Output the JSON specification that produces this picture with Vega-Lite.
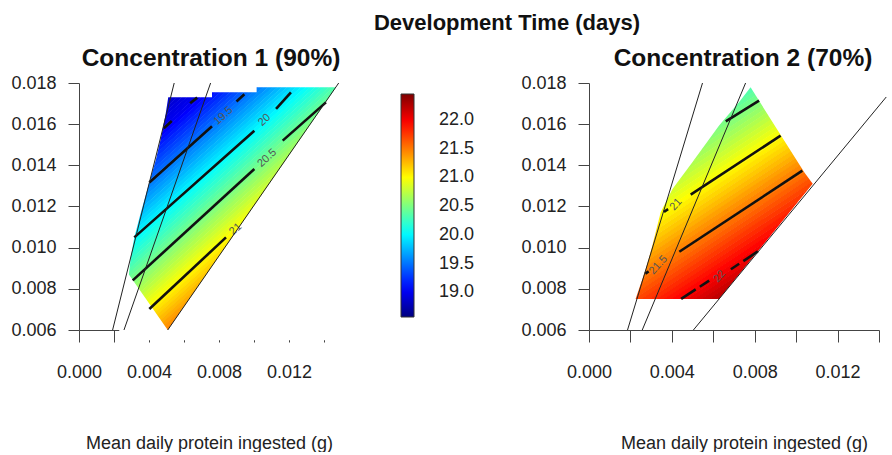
{
"$schema":"https://vega.github.io/schema/vega-lite/v6.json",
"padding":{"left":10,"top":11,"right":0,"bottom":0},
"config":{"font":"Liberation Sans","view":{"stroke":null},
"axis":{"domainColor":"#444","tickColor":"#444","labelColor":"#222","labelFontSize":18,"grid":false,"labelFlush":false,"labelOverlap":false,"zindex":1,"domainWidth":1,"tickWidth":1}},
"title":{"text":"Development Time (days)","fontSize":22,"fontWeight":"bold","anchor":"middle","frame":"group","dx":428,"offset":11,"color":"#111"},
"bounds":"flush",
"spacing":265,
"resolve":{"scale":{"color":"shared"}},
"datasets":{
"stripes":[
{"p":1,"v":18.85,"x":0.0027,"y":0.01561,"x2":0.0058,"y2":0.01795},
{"p":1,"v":18.87,"x":0.0027,"y":0.01541,"x2":0.00607,"y2":0.01795},
{"p":1,"v":18.89,"x":0.0027,"y":0.0152,"x2":0.00633,"y2":0.01795},
{"p":1,"v":18.91,"x":0.0027,"y":0.015,"x2":0.0066,"y2":0.01795},
{"p":1,"v":18.94,"x":0.0027,"y":0.0148,"x2":0.00687,"y2":0.01795},
{"p":1,"v":18.96,"x":0.0027,"y":0.0146,"x2":0.00714,"y2":0.01795},
{"p":1,"v":18.98,"x":0.0027,"y":0.0144,"x2":0.0074,"y2":0.01795},
{"p":1,"v":19.00,"x":0.0027,"y":0.01419,"x2":0.00767,"y2":0.01795},
{"p":1,"v":19.05,"x":0.0027,"y":0.01399,"x2":0.00794,"y2":0.01795},
{"p":1,"v":19.10,"x":0.0027,"y":0.01379,"x2":0.00821,"y2":0.01795},
{"p":1,"v":19.15,"x":0.0027,"y":0.01359,"x2":0.00847,"y2":0.01795},
{"p":1,"v":19.20,"x":0.0027,"y":0.01339,"x2":0.00874,"y2":0.01795},
{"p":1,"v":19.25,"x":0.0027,"y":0.01318,"x2":0.00901,"y2":0.01795},
{"p":1,"v":19.30,"x":0.0027,"y":0.01298,"x2":0.00928,"y2":0.01795},
{"p":1,"v":19.35,"x":0.0027,"y":0.01278,"x2":0.00954,"y2":0.01795},
{"p":1,"v":19.40,"x":0.0027,"y":0.01258,"x2":0.00981,"y2":0.01795},
{"p":1,"v":19.45,"x":0.0027,"y":0.01238,"x2":0.01008,"y2":0.01795},
{"p":1,"v":19.50,"x":0.0027,"y":0.01217,"x2":0.01035,"y2":0.01795},
{"p":1,"v":19.55,"x":0.0027,"y":0.01197,"x2":0.01061,"y2":0.01795},
{"p":1,"v":19.60,"x":0.0027,"y":0.01177,"x2":0.01088,"y2":0.01795},
{"p":1,"v":19.65,"x":0.0027,"y":0.01157,"x2":0.01115,"y2":0.01795},
{"p":1,"v":19.70,"x":0.0027,"y":0.01137,"x2":0.01141,"y2":0.01795},
{"p":1,"v":19.75,"x":0.0027,"y":0.01116,"x2":0.01168,"y2":0.01795},
{"p":1,"v":19.80,"x":0.0027,"y":0.01096,"x2":0.01195,"y2":0.01795},
{"p":1,"v":19.85,"x":0.0027,"y":0.01076,"x2":0.01222,"y2":0.01795},
{"p":1,"v":19.90,"x":0.0027,"y":0.01056,"x2":0.01248,"y2":0.01795},
{"p":1,"v":19.95,"x":0.0027,"y":0.01036,"x2":0.01275,"y2":0.01795},
{"p":1,"v":20.00,"x":0.0027,"y":0.01015,"x2":0.01302,"y2":0.01795},
{"p":1,"v":20.05,"x":0.0027,"y":0.00995,"x2":0.01329,"y2":0.01795},
{"p":1,"v":20.10,"x":0.0027,"y":0.00975,"x2":0.01355,"y2":0.01795},
{"p":1,"v":20.15,"x":0.0027,"y":0.00955,"x2":0.01382,"y2":0.01795},
{"p":1,"v":20.20,"x":0.0027,"y":0.00935,"x2":0.01409,"y2":0.01795},
{"p":1,"v":20.25,"x":0.0027,"y":0.00914,"x2":0.01436,"y2":0.01795},
{"p":1,"v":20.30,"x":0.0027,"y":0.00894,"x2":0.01462,"y2":0.01795},
{"p":1,"v":20.35,"x":0.0027,"y":0.00874,"x2":0.01485,"y2":0.01792},
{"p":1,"v":20.40,"x":0.0027,"y":0.00854,"x2":0.01485,"y2":0.01772},
{"p":1,"v":20.45,"x":0.0027,"y":0.00834,"x2":0.01485,"y2":0.01752},
{"p":1,"v":20.50,"x":0.0027,"y":0.00813,"x2":0.01485,"y2":0.01731},
{"p":1,"v":20.55,"x":0.0027,"y":0.00793,"x2":0.01485,"y2":0.01711},
{"p":1,"v":20.60,"x":0.0027,"y":0.00773,"x2":0.01485,"y2":0.01691},
{"p":1,"v":20.65,"x":0.0027,"y":0.00753,"x2":0.01485,"y2":0.01671},
{"p":1,"v":20.70,"x":0.0027,"y":0.00733,"x2":0.01485,"y2":0.01651},
{"p":1,"v":20.75,"x":0.0027,"y":0.00712,"x2":0.01485,"y2":0.0163},
{"p":1,"v":20.80,"x":0.0027,"y":0.00692,"x2":0.01485,"y2":0.0161},
{"p":1,"v":20.85,"x":0.0027,"y":0.00672,"x2":0.01485,"y2":0.0159},
{"p":1,"v":20.90,"x":0.0027,"y":0.00652,"x2":0.01485,"y2":0.0157},
{"p":1,"v":20.95,"x":0.0027,"y":0.00632,"x2":0.01485,"y2":0.0155},
{"p":1,"v":21.00,"x":0.0027,"y":0.00611,"x2":0.01485,"y2":0.01529},
{"p":1,"v":21.05,"x":0.0027,"y":0.00591,"x2":0.01485,"y2":0.01509},
{"p":1,"v":21.10,"x":0.00295,"y":0.0059,"x2":0.01485,"y2":0.01489},
{"p":1,"v":21.15,"x":0.00322,"y":0.0059,"x2":0.01485,"y2":0.01469},
{"p":1,"v":21.20,"x":0.00349,"y":0.0059,"x2":0.01485,"y2":0.01449},
{"p":1,"v":21.25,"x":0.00375,"y":0.0059,"x2":0.01485,"y2":0.01428},
{"p":1,"v":21.30,"x":0.00402,"y":0.0059,"x2":0.01485,"y2":0.01408},
{"p":1,"v":21.35,"x":0.00429,"y":0.0059,"x2":0.01485,"y2":0.01388},
{"p":1,"v":21.40,"x":0.00456,"y":0.0059,"x2":0.01485,"y2":0.01368},
{"p":1,"v":21.45,"x":0.00483,"y":0.0059,"x2":0.01485,"y2":0.01348},
{"p":2,"v":20.30,"x":0.0021,"y":0.01406,"x2":0.00796,"y2":0.01795},
{"p":2,"v":20.35,"x":0.0021,"y":0.01382,"x2":0.00832,"y2":0.01795},
{"p":2,"v":20.40,"x":0.0021,"y":0.01358,"x2":0.00869,"y2":0.01795},
{"p":2,"v":20.45,"x":0.0021,"y":0.01334,"x2":0.00905,"y2":0.01795},
{"p":2,"v":20.50,"x":0.0021,"y":0.0131,"x2":0.00941,"y2":0.01795},
{"p":2,"v":20.55,"x":0.0021,"y":0.01286,"x2":0.00977,"y2":0.01795},
{"p":2,"v":20.60,"x":0.0021,"y":0.01262,"x2":0.01014,"y2":0.01795},
{"p":2,"v":20.65,"x":0.0021,"y":0.01238,"x2":0.0105,"y2":0.01795},
{"p":2,"v":20.70,"x":0.0021,"y":0.01214,"x2":0.01086,"y2":0.01795},
{"p":2,"v":20.75,"x":0.0021,"y":0.0119,"x2":0.0109,"y2":0.01774},
{"p":2,"v":20.80,"x":0.0021,"y":0.01166,"x2":0.0109,"y2":0.0175},
{"p":2,"v":20.85,"x":0.0021,"y":0.01142,"x2":0.0109,"y2":0.01726},
{"p":2,"v":20.90,"x":0.0021,"y":0.01118,"x2":0.0109,"y2":0.01702},
{"p":2,"v":20.95,"x":0.0021,"y":0.01094,"x2":0.0109,"y2":0.01678},
{"p":2,"v":21.00,"x":0.0021,"y":0.0107,"x2":0.0109,"y2":0.01654},
{"p":2,"v":21.05,"x":0.0021,"y":0.01046,"x2":0.0109,"y2":0.01629},
{"p":2,"v":21.10,"x":0.0021,"y":0.01022,"x2":0.0109,"y2":0.01605},
{"p":2,"v":21.15,"x":0.0021,"y":0.00998,"x2":0.0109,"y2":0.01581},
{"p":2,"v":21.20,"x":0.0021,"y":0.00973,"x2":0.0109,"y2":0.01557},
{"p":2,"v":21.25,"x":0.0021,"y":0.00949,"x2":0.0109,"y2":0.01533},
{"p":2,"v":21.30,"x":0.0021,"y":0.00925,"x2":0.0109,"y2":0.01509},
{"p":2,"v":21.35,"x":0.0021,"y":0.00901,"x2":0.0109,"y2":0.01485},
{"p":2,"v":21.40,"x":0.0021,"y":0.00877,"x2":0.0109,"y2":0.01461},
{"p":2,"v":21.45,"x":0.0021,"y":0.00853,"x2":0.0109,"y2":0.01437},
{"p":2,"v":21.50,"x":0.0021,"y":0.00829,"x2":0.0109,"y2":0.01413},
{"p":2,"v":21.55,"x":0.0021,"y":0.00805,"x2":0.0109,"y2":0.01389},
{"p":2,"v":21.60,"x":0.0021,"y":0.00781,"x2":0.0109,"y2":0.01365},
{"p":2,"v":21.65,"x":0.0021,"y":0.00757,"x2":0.0109,"y2":0.01341},
{"p":2,"v":21.70,"x":0.00222,"y":0.00741,"x2":0.0109,"y2":0.01317},
{"p":2,"v":21.75,"x":0.00258,"y":0.00741,"x2":0.0109,"y2":0.01293},
{"p":2,"v":21.80,"x":0.00295,"y":0.00741,"x2":0.0109,"y2":0.01269},
{"p":2,"v":21.85,"x":0.00331,"y":0.00741,"x2":0.0109,"y2":0.01245},
{"p":2,"v":21.90,"x":0.00367,"y":0.00741,"x2":0.0109,"y2":0.01221},
{"p":2,"v":21.95,"x":0.00403,"y":0.00741,"x2":0.0109,"y2":0.01197},
{"p":2,"v":22.00,"x":0.00439,"y":0.00741,"x2":0.0109,"y2":0.01173},
{"p":2,"v":22.05,"x":0.00476,"y":0.00741,"x2":0.0109,"y2":0.01149},
{"p":2,"v":22.10,"x":0.00512,"y":0.00741,"x2":0.0109,"y2":0.01125},
{"p":2,"v":22.15,"x":0.00548,"y":0.00741,"x2":0.0109,"y2":0.01101},
{"p":2,"v":22.20,"x":0.00584,"y":0.00741,"x2":0.0109,"y2":0.01077},
{"p":2,"v":22.25,"x":0.00621,"y":0.00741,"x2":0.0109,"y2":0.01053}
],
"edges":[
{"p":1,"m":"L","y":0.006,"x":0.0023,"x2":0.00507},
{"p":1,"m":"L","y":0.0087,"x":0.0023,"x2":0.00285},
{"p":1,"m":"L","y":0.0095,"x":0.0023,"x2":0.00295},
{"p":1,"m":"L","y":0.0105,"x":0.0023,"x2":0.00316},
{"p":1,"m":"L","y":0.0116,"x":0.0023,"x2":0.0035},
{"p":1,"m":"L","y":0.01318,"x":0.0023,"x2":0.00402},
{"p":1,"m":"L","y":0.0143,"x":0.0023,"x2":0.0044},
{"p":1,"m":"L","y":0.0154,"x":0.0023,"x2":0.0047},
{"p":1,"m":"L","y":0.0165,"x":0.0023,"x2":0.00495},
{"p":1,"m":"L","y":0.01731,"x":0.0023,"x2":0.0051},
{"p":1,"m":"L","y":0.0176,"x":0.0023,"x2":0.0051},
{"p":1,"m":"R","y":0.006,"x":0.00507,"x2":0.0153},
{"p":1,"m":"R","y":0.0178,"x":0.0147,"x2":0.0153},
{"p":1,"m":"R","y":0.01805,"x":0.01474,"x2":0.0153},
{"p":2,"m":"L","y":0.00751,"x":0.0018,"x2":0.00225},
{"p":2,"m":"L","y":0.00896,"x":0.0018,"x2":0.00274},
{"p":2,"m":"L","y":0.0101,"x":0.0018,"x2":0.00306},
{"p":2,"m":"L","y":0.01172,"x":0.0018,"x2":0.00346},
{"p":2,"m":"L","y":0.01285,"x":0.0018,"x2":0.00403},
{"p":2,"m":"L","y":0.01415,"x":0.0018,"x2":0.00499},
{"p":2,"m":"L","y":0.01593,"x":0.0018,"x2":0.00628},
{"p":2,"m":"L","y":0.01706,"x":0.0018,"x2":0.00724},
{"p":2,"m":"L","y":0.01779,"x":0.0018,"x2":0.0078},
{"p":2,"m":"L","y":0.01805,"x":0.0018,"x2":0.0078},
{"p":2,"m":"R","y":0.00751,"x":0.00628,"x2":0.0113},
{"p":2,"m":"R","y":0.0131,"x":0.0108,"x2":0.0113},
{"p":2,"m":"R","y":0.01365,"x":0.0104,"x2":0.0113},
{"p":2,"m":"R","y":0.01779,"x":0.0078,"x2":0.0113},
{"p":2,"m":"R","y":0.01805,"x":0.0078,"x2":0.0113}
],
"blocks":[
{"p":1,"x":0.0023,"x2":0.0153,"y":0.0055,"y2":0.006},
{"p":1,"x":0.0023,"x2":0.0076,"y":0.01731,"y2":0.01805},
{"p":1,"x":0.00755,"x2":0.01015,"y":0.01755,"y2":0.01805},
{"p":1,"x":0.01005,"x2":0.0153,"y":0.01779,"y2":0.01805},
{"p":2,"x":0.0018,"x2":0.0113,"y":0.007,"y2":0.00751},
{"p":2,"x":0.0018,"x2":0.0113,"y":0.01779,"y2":0.01805}
],
"contours":[
{"p":1,"x":0.00485,"y":0.0158,"x2":0.0053,"y2":0.01615},
{"p":1,"x":0.00635,"y":0.01702,"x2":0.00675,"y2":0.01729},
{"p":1,"x":0.00402,"y":0.01317,"x2":0.0076,"y2":0.0159},
{"p":1,"x":0.009,"y":0.0171,"x2":0.00945,"y2":0.01745},
{"p":1,"x":0.00316,"y":0.0105,"x2":0.01002,"y2":0.01568},
{"p":1,"x":0.01126,"y":0.01674,"x2":0.01211,"y2":0.01755},
{"p":1,"x":0.00307,"y":0.00841,"x2":0.01002,"y2":0.01382},
{"p":1,"x":0.01164,"y":0.0152,"x2":0.01411,"y2":0.01706},
{"p":1,"x":0.00402,"y":0.00702,"x2":0.0084,"y2":0.0105},
{"p":2,"x":0.0066,"y":0.01614,"x2":0.00821,"y2":0.01714},
{"p":2,"x":0.00362,"y":0.01174,"x2":0.00382,"y2":0.01187},
{"p":2,"x":0.00491,"y":0.01258,"x2":0.00925,"y2":0.01544},
{"p":2,"x":0.00272,"y":0.00874,"x2":0.00288,"y2":0.00885},
{"p":2,"x":0.00436,"y":0.0098,"x2":0.0103,"y2":0.01374},
{"p":2,"x":0.00445,"y":0.00751,"x2":0.00515,"y2":0.00797},
{"p":2,"x":0.00535,"y":0.0081,"x2":0.0058,"y2":0.0084},
{"p":2,"x":0.00685,"y":0.00895,"x2":0.00725,"y2":0.00922},
{"p":2,"x":0.00745,"y":0.00935,"x2":0.00815,"y2":0.00982}
],
"labels":[
{"p":1,"t":"19.5","x":0.00825,"y":0.0164},
{"p":1,"t":"20","x":0.0106,"y":0.0162},
{"p":1,"t":"20.5","x":0.01075,"y":0.01435},
{"p":1,"t":"21","x":0.00895,"y":0.0109},
{"p":2,"t":"21","x":0.0042,"y":0.0121},
{"p":2,"t":"21.5","x":0.00335,"y":0.00915},
{"p":2,"t":"22","x":0.0063,"y":0.0086}
],
"rails":[
{"p":1,"x":0.00192,"y":0.006,"x2":0.00544,"y2":0.018},
{"p":1,"x":0.00257,"y":0.006,"x2":0.00752,"y2":0.018},
{"p":1,"x":0.00507,"y":0.006,"x2":0.01484,"y2":0.018},
{"p":2,"x":0.00186,"y":0.006,"x2":0.00548,"y2":0.018},
{"p":2,"x":0.00257,"y":0.006,"x2":0.00756,"y2":0.018},
{"p":2,"x":0.00504,"y":0.006,"x2":0.01435,"y2":0.01732}
]
},
"hconcat":[
{
"width":245,"height":247,
"title":{"text":"Concentration 1 (90%)","fontSize":24.5,"fontWeight":"bold","anchor":"middle","frame":"group","dx":9.5,"offset":3,"color":"#111"},
"encoding":{
"x":{"field":"x","type":"quantitative","scale":{"domain":[0,0.014],"nice":false,"zero":false},
"axis":{"values":[0,0.002,0.004,0.006,0.008,0.01,0.012,0.014],"labelExpr":"indexof(['0.000','0.004','0.008','0.012'], format(datum.value,'.3f')) >= 0 ? format(datum.value,'.3f') : ''","tickSize":12,"labelPadding":21,"title":"Mean daily protein ingested (g)","titleFontSize":18,"titleFontWeight":"normal","titleColor":"#222","titleX":130,"titleY":113,"titleBaseline":"middle"}},
"y":{"field":"y","type":"quantitative","scale":{"domain":[0.006,0.018],"nice":false,"zero":false},
"axis":{"values":[0.006,0.008,0.01,0.012,0.014,0.016,0.018],"format":".3f","tickSize":11,"labelPadding":12,"title":null}}
},
"layer":[
{"data":{"name":"stripes"},"transform":[{"filter":"datum.p==1"}],
"mark":{"type":"rule","strokeWidth":3.6,"strokeCap":"butt"},
"encoding":{"x2":{"field":"x2"},"y2":{"field":"y2"},
"color":{"field":"v","type":"quantitative","scale":{"domain":[18.57,19.055,19.54,20.025,20.51,20.995,21.48,21.965,22.45],"range":["#00007F","#0000FF","#007FFF","#00FFFF","#7FFF7F","#FFFF00","#FF7F00","#FF0000","#7F0000"],"interpolate":"rgb"},
"legend":{"orient":"none","legendX":322,"legendY":11,"direction":"vertical","title":null,"gradientLength":223,"gradientThickness":13,"values":[19,19.5,20,20.5,21,21.5,22],"format":".1f","labelFontSize":18,"labelOffset":25,"labelColor":"#222","gradientStrokeColor":"#333","gradientStrokeWidth":1}}}},
{"data":{"name":"edges"},"transform":[{"filter":"datum.p==1"}],
"mark":{"type":"area","orient":"horizontal","color":"white"},
"encoding":{"x2":{"field":"x2"},"detail":{"field":"m"}}},
{"data":{"name":"blocks"},"transform":[{"filter":"datum.p==1"}],
"mark":{"type":"rect","color":"white"},
"encoding":{"x2":{"field":"x2"},"y2":{"field":"y2"}}},
{"data":{"name":"contours"},"transform":[{"filter":"datum.p==1"}],
"mark":{"type":"rule","strokeWidth":2.6,"color":"#111","strokeCap":"butt"},
"encoding":{"x2":{"field":"x2"},"y2":{"field":"y2"}}},
{"data":{"name":"labels"},"transform":[{"filter":"datum.p==1"}],
"mark":{"type":"text","fontSize":11,"angle":318,"color":"#555"},
"encoding":{"text":{"field":"t"}}},
{"data":{"name":"rails"},"transform":[{"filter":"datum.p==1"}],
"mark":{"type":"rule","strokeWidth":1,"color":"#222"},
"encoding":{"x2":{"field":"x2"},"y2":{"field":"y2"}}}
]
},
{
"width":290,"height":247,
"title":{"text":"Concentration 2 (70%)","fontSize":24.5,"fontWeight":"bold","anchor":"middle","frame":"group","dx":9,"offset":3,"color":"#111"},
"encoding":{
"x":{"field":"x","type":"quantitative","scale":{"domain":[0,0.014],"nice":false,"zero":false},
"axis":{"values":[0,0.002,0.004,0.006,0.008,0.01,0.012,0.014],"labelExpr":"indexof(['0.000','0.004','0.008','0.012'], format(datum.value,'.3f')) >= 0 ? format(datum.value,'.3f') : ''","tickSize":12,"labelPadding":21,"title":"Mean daily protein ingested (g)","titleFontSize":18,"titleFontWeight":"normal","titleColor":"#222","titleX":155,"titleY":113,"titleBaseline":"middle"}},
"y":{"field":"y","type":"quantitative","scale":{"domain":[0.006,0.018],"nice":false,"zero":false},
"axis":{"values":[0.006,0.008,0.01,0.012,0.014,0.016,0.018],"format":".3f","tickSize":11,"labelPadding":12,"title":null}}
},
"layer":[
{"data":{"name":"stripes"},"transform":[{"filter":"datum.p==2"}],
"mark":{"type":"rule","strokeWidth":4.6,"strokeCap":"butt"},
"encoding":{"x2":{"field":"x2"},"y2":{"field":"y2"},
"color":{"field":"v","type":"quantitative","scale":{"domain":[18.57,19.055,19.54,20.025,20.51,20.995,21.48,21.965,22.45],"range":["#00007F","#0000FF","#007FFF","#00FFFF","#7FFF7F","#FFFF00","#FF7F00","#FF0000","#7F0000"],"interpolate":"rgb"},
"legend":{"orient":"none","legendX":322,"legendY":11,"direction":"vertical","title":null,"gradientLength":223,"gradientThickness":13,"values":[19,19.5,20,20.5,21,21.5,22],"format":".1f","labelFontSize":18,"labelOffset":25,"labelColor":"#222","gradientStrokeColor":"#333","gradientStrokeWidth":1}}}},
{"data":{"name":"edges"},"transform":[{"filter":"datum.p==2"}],
"mark":{"type":"area","orient":"horizontal","color":"white"},
"encoding":{"x2":{"field":"x2"},"detail":{"field":"m"}}},
{"data":{"name":"blocks"},"transform":[{"filter":"datum.p==2"}],
"mark":{"type":"rect","color":"white"},
"encoding":{"x2":{"field":"x2"},"y2":{"field":"y2"}}},
{"data":{"name":"contours"},"transform":[{"filter":"datum.p==2"}],
"mark":{"type":"rule","strokeWidth":2.6,"color":"#111","strokeCap":"butt"},
"encoding":{"x2":{"field":"x2"},"y2":{"field":"y2"}}},
{"data":{"name":"labels"},"transform":[{"filter":"datum.p==2"}],
"mark":{"type":"text","fontSize":11,"angle":312,"color":"#555"},
"encoding":{"text":{"field":"t"}}},
{"data":{"name":"rails"},"transform":[{"filter":"datum.p==2"}],
"mark":{"type":"rule","strokeWidth":1,"color":"#222"},
"encoding":{"x2":{"field":"x2"},"y2":{"field":"y2"}}}
]
}
]
}
